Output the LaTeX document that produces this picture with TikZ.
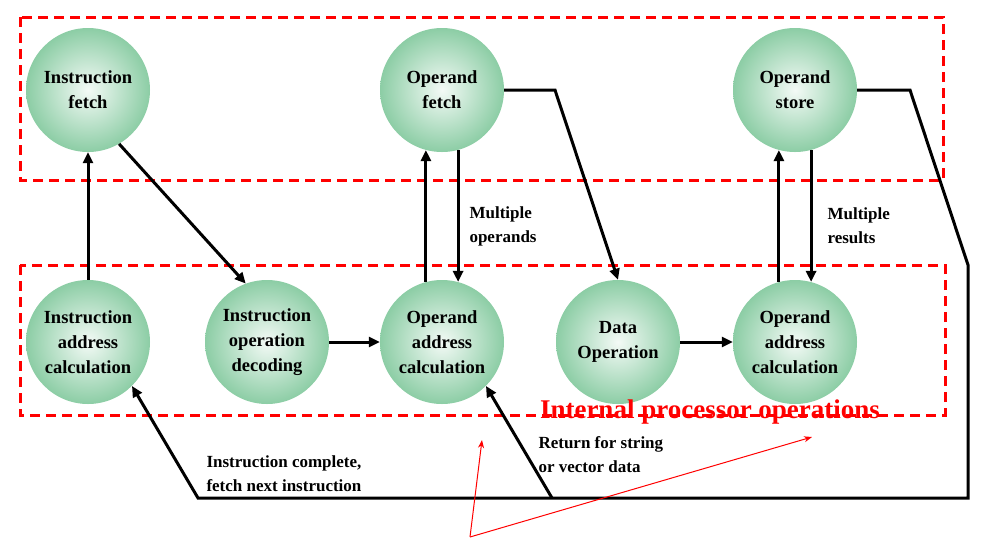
\documentclass[tikz,border=0pt]{standalone}
\usepackage{fontspec}
\setmainfont{Liberation Serif}
\usetikzlibrary{arrows.meta}
\definecolor{cg}{RGB}{140,205,165}
\begin{document}
\begin{tikzpicture}[x=1pt,y=-1pt,
 st/.style={circle,minimum size=124pt,inner sep=0pt,align=center,font=\bfseries\fontsize{18.5}{25}\selectfont,inner color=white!90!cg,outer color=cg},
 ar/.style={line width=3pt,-{Triangle[length=11pt,width=10pt]}},
 lb/.style={font=\bfseries\fontsize{17}{24}\selectfont,align=left,anchor=west},
 rb/.style={red,line width=3pt,dash pattern=on 10pt off 6pt}]
\useasboundingbox (0,0) rectangle (983,550);
\draw[rb] (20,17) rectangle (943,180);
\draw[rb] (20,265) rectangle (945,415);
\node[st] (if) at (88,90) {Instruction\\fetch};
\node[st] (of) at (442,90) {Operand\\fetch};
\node[st] (os) at (795,90) {Operand\\store};
\node[st] (iac) at (88,342) {Instruction\\address\\calculation};
\node[st] (iod) at (267,342) {Instruction\\operation\\decoding};
\node[st] (oac1) at (442,342) {Operand\\address\\calculation};
\node[st] (dop) at (618,342) {Data\\Operation};
\node[st] (oac2) at (795,342) {Operand\\address\\calculation};
\draw[ar] (iac.north) -- (if.south);
\draw[ar] (if.-60) -- (iod.110);
\draw[ar] (iod.east) -- (oac1.west);
\draw[ar] (oac1.105) -- (of.-105);
\draw[ar] (of.-75) -- (oac1.75);
\draw[ar] (of.east) -- (555,90) -- (dop.north);
\draw[ar] (dop.east) -- (oac2.west);
\draw[ar] (oac2.105) -- (os.-105);
\draw[ar] (os.-75) -- (oac2.75);
\coordinate (c1) at (968,498);
\coordinate (c2) at (198,498);
\coordinate (c3) at (552,498);
\draw[ar] (os.east) -- (910,90) -- (968,265) -- (c1) -- (c2) -- (iac.-45);
\draw[ar] (c3) -- (oac1.-45);
\node[lb] (l1) at (466,226) {Multiple\\operands};
\node[lb] (l2) at (824,226) {Multiple\\results};
\node[lb] (l3) at (203,474) {Instruction complete,\\fetch next instruction};
\node[lb] (l4) at (535,455) {Return for string\\or vector data};
\node[red,font=\bfseries\fontsize{27}{30}\selectfont] (ip) at (710,412) {Internal processor operations};
\coordinate (t) at (470,537);
\draw[red,line width=1pt,-{Stealth[length=8pt]}] (t) -- (482,440);
\draw[red,line width=1pt,-{Stealth[length=8pt]}] (t) -- (812,437);
\end{tikzpicture}
\end{document}
